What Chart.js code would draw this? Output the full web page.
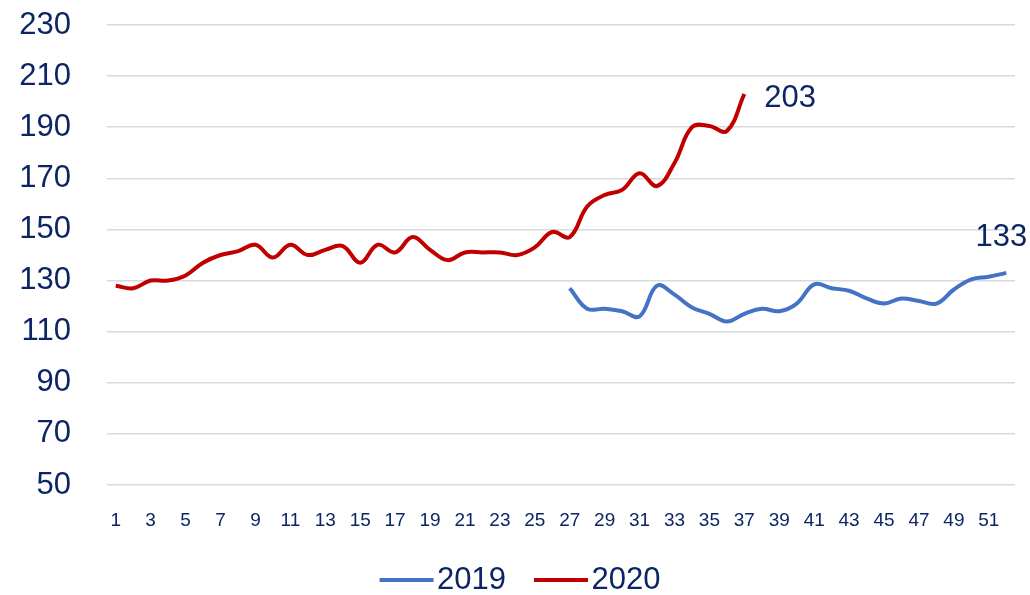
<!DOCTYPE html>
<html>
<head>
<meta charset="utf-8">
<script src="https://cdn.jsdelivr.net/npm/chart.js@4/dist/chart.umd.min.js"></script>
<style>
  html, body { margin: 0; padding: 0; background: #fff; }
  #wrap { width: 1030px; height: 595px; }
</style>
</head>
<body>
<div id="wrap"><canvas id="chart" width="1030" height="595"></canvas></div>
<script>
const weeks = Array.from({ length: 52 }, (_, i) => String(i + 1));
const yTicks = [50, 70, 90, 110, 130, 150, 170, 190, 210, 230];

// 2020: weeks 1-37
const values2020 = [128, 127, 130, 130, 132, 137, 140, 141.5, 144, 139,
  144, 140, 142, 143.5, 137, 144, 141, 147, 142, 138,
  141, 141, 141, 140, 143, 149, 147, 159, 163.5, 165.5,
  172, 167, 176, 190, 190.5, 188.5, 203];
// 2019: weeks 27-52
const values2019 = [127, 119, 119, 118, 116, 128, 124.5, 119.5, 117, 114,
  117, 119, 118, 121, 128.5, 127, 126, 123, 121, 123,
  122, 121, 126.5, 130.5, 131.5, 133];

const navy = '#0B2565';
const blue = '#4472C4';
const red = '#C00000';

function padTo52(vals, start) {
  const out = new Array(52).fill(null);
  vals.forEach((v, i) => { out[start - 1 + i] = v; });
  return out;
}

// line swatch for the legend, sitting in the right part of a wider image
function legendLine(color) {
  const c = document.createElement('canvas');
  c.width = 76;
  c.height = 4;
  const g = c.getContext('2d');
  g.fillStyle = color;
  g.fillRect(21, 0, 54, 4);
  return c;
}

// label at the last point of each line
const endLabels = {
  id: 'endLabels',
  afterDatasetsDraw(chart) {
    const ctx = chart.ctx;
    ctx.save();
    ctx.font = '31px "Liberation Sans", Arial, sans-serif';
    ctx.fillStyle = navy;
    ctx.textBaseline = 'middle';
    chart.data.datasets.forEach((ds, di) => {
      const meta = chart.getDatasetMeta(di);
      let last = -1;
      ds.data.forEach((v, i) => { if (v !== null) last = i; });
      if (last < 0) return;
      const pt = meta.data[last];
      const txt = String(Math.round(ds.data[last]));
      if (ds.endLabelPos === 'right') {
        ctx.textAlign = 'left';
        ctx.fillText(txt, pt.x + 20, pt.y + 4);
      } else {
        ctx.textAlign = 'center';
        ctx.fillText(txt, pt.x - 5, pt.y - 35);
      }
    });
    ctx.restore();
  }
};

new Chart(document.getElementById('chart'), {
  type: 'line',
  data: {
    labels: weeks,
    datasets: [
      {
        label: '2019',
        data: padTo52(values2019, 27),
        borderColor: blue,
        backgroundColor: blue,
        borderWidth: 4,
        pointRadius: 0,
        tension: 0.4,
        endLabelPos: 'top'
      },
      {
        label: '2020',
        data: padTo52(values2020, 1),
        borderColor: red,
        backgroundColor: red,
        borderWidth: 4,
        pointRadius: 0,
        tension: 0.4,
        endLabelPos: 'right'
      }
    ]
  },
  options: {
    responsive: false,
    animation: false,
    layout: { padding: { left: 17, right: 15, top: 0, bottom: -10.5 } },
    plugins: {
      legend: {
        position: 'bottom',
        labels: {
          usePointStyle: true,
          pointStyleWidth: 50,
          color: navy,
          font: { size: 31, family: '"Liberation Sans", Arial, sans-serif' },
          padding: 20,
          generateLabels: chart => {
            const items = Chart.defaults.plugins.legend.labels.generateLabels(chart);
            items.forEach(it => { it.pointStyle = legendLine(chart.data.datasets[it.datasetIndex].borderColor); });
            return items;
          }
        }
      },
      tooltip: { enabled: false }
    },
    scales: {
      x: {
        offset: true,
        grid: { display: false },
        border: { display: false },
        afterFit: axis => { axis.height = 59.5; },
        ticks: {
          autoSkip: false,
          maxRotation: 0,
          color: navy,
          padding: 16,
          font: { size: 19, family: '"Liberation Sans Narrow", "Liberation Sans", Arial, sans-serif' },
          callback: (v, i) => (i % 2 === 0 ? weeks[i] : '')
        }
      },
      y: {
        min: yTicks[0],
        max: yTicks[yTicks.length - 1],
        afterBuildTicks: axis => { axis.ticks = yTicks.map(v => ({ value: v })); },
        afterFit: axis => {
          axis.width = 90;
          axis.paddingTop = 25;
          axis.paddingBottom = 0;
        },
        grid: { color: '#D9D9D9', lineWidth: 1.5, drawTicks: false },
        border: { display: false },
        ticks: {
          color: navy,
          padding: 36,
          font: { size: 31, family: '"Liberation Sans", Arial, sans-serif' }
        }
      }
    }
  },
  plugins: [endLabels]
});
</script>
</body>
</html>
